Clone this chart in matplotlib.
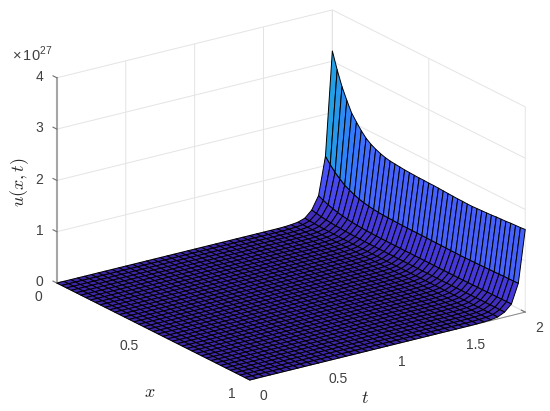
import matplotlib
matplotlib.use("Agg")
import matplotlib.pyplot as plt
from matplotlib.colors import LinearSegmentedColormap, Normalize
import numpy as np

plt.rcParams['font.family'] = ['Liberation Sans', 'DejaVu Sans']
plt.rcParams['mathtext.fontset'] = 'custom'
plt.rcParams['mathtext.rm'] = 'Liberation Sans'

# grid: 40 cells in x, 40 cells in t
x_vals = np.linspace(0, 1, 41)
t_vals = np.linspace(0, 2, 41)

# u at t=2 along x, in units of 1e27
u_end = [3.20, 2.88, 2.60, 2.38, 2.18, 2.05, 1.93, 1.83, 1.76, 1.71, 1.67,
         1.64, 1.62, 1.61, 1.60, 1.59, 1.585, 1.58, 1.575, 1.575, 1.57,
         1.57, 1.565, 1.56, 1.555, 1.55, 1.545, 1.545, 1.54, 1.54, 1.545,
         1.55, 1.555, 1.56, 1.57, 1.575, 1.58, 1.59, 1.595, 1.60, 1.61]
# share of u_end at the last t rows, flat zero before them
t_share = [0.001, 0.004, 0.009, 0.023, 0.062, 0.14, 0.37, 1.0]

x_ticks = [0, 0.5, 1]
x_labels = ['0', '0.5', '1']
t_ticks = [0, 0.5, 1, 1.5, 2]
t_labels = ['0', '0.5', '1', '1.5', '2']
u_ticks = [0, 1, 2, 3, 4]

# parula, first part of the 64 colour table
parula = [(0.2422, 0.1504, 0.6603), (0.2504, 0.1650, 0.7076), (0.2578, 0.1818, 0.7511),
          (0.2647, 0.1978, 0.7952), (0.2706, 0.2147, 0.8364), (0.2751, 0.2342, 0.8710),
          (0.2783, 0.2559, 0.8991), (0.2803, 0.2782, 0.9221), (0.2813, 0.3006, 0.9414),
          (0.2810, 0.3228, 0.9579), (0.2795, 0.3447, 0.9717), (0.2760, 0.3667, 0.9829),
          (0.2699, 0.3892, 0.9906), (0.2602, 0.4123, 0.9952), (0.2440, 0.4358, 0.9988),
          (0.2206, 0.4603, 0.9973), (0.1963, 0.4847, 0.9892), (0.1834, 0.5074, 0.9798),
          (0.1786, 0.5289, 0.9682), (0.1764, 0.5499, 0.9520), (0.1687, 0.5703, 0.9359),
          (0.1540, 0.5902, 0.9218), (0.1460, 0.6091, 0.9079), (0.1380, 0.6276, 0.8973)]

cmap = LinearSegmentedColormap.from_list('parula_low', parula)
norm = Normalize(0, 3.2 * 23 / 63)

X, T = np.meshgrid(x_vals, t_vals)
U = np.zeros(X.shape)
U[-len(t_share):, :] = np.outer(t_share, u_end)

fig = plt.figure(figsize=(5.5, 4.11), dpi=100)
ax = fig.add_axes([10.5 / 550, 5 / 411, 1, 1], projection='3d', proj_type='ortho')
ax.view_init(elev=20.6, azim=-35)
ax.set_box_aspect((1, 1, 0.652), zoom=1.237)

surf = ax.plot_surface(X, T, U, facecolors=cmap(norm(U)), rstride=1, cstride=1,
                       edgecolor='#000000', linewidth=0.7, shade=False, antialiased=True)
# the 3d axes box is square and narrower than the picture
surf.set_clip_on(False)

ax.set_xlim(0, 1, view_margin=0)
ax.set_ylim(0, 2, view_margin=0)
ax.set_zlim(0, 4, view_margin=0)
ax.set_xticks(x_ticks, x_labels)
ax.set_yticks(t_ticks, t_labels)
ax.set_zticks(u_ticks)
ax.zaxis.set_ticks_position('lower')
# z ticks point along -x like the reference
ax.zaxis._get_tickdir = lambda pos: 0

for axis in (ax.xaxis, ax.yaxis, ax.zaxis):
    axis.set_pane_color((1, 1, 1, 0))
    axis.pane.set_edgecolor((1, 1, 1, 0))
    axis.line.set_color('#8a8a8a')
    axis.line.set_linewidth(0.7)
    axis._axinfo['grid']['color'] = '#e4e4e4'
    axis._axinfo['grid']['linewidth'] = 0.7
    axis._axinfo['tick']['inward_factor'] = 0
    axis._axinfo['tick']['outward_factor'] = 0.25
    axis.set_tick_params(labelsize=10, labelcolor='#404040', color='#707070', width=0.7, pad=0)
ax.zaxis.line.set_linewidth(1.5)
ax.zaxis.line.set_color('#a6a6a6')
ax.zaxis.set_tick_params(pad=-3.5)

for lab in ax.xaxis.get_ticklabels():
    lab.set_ha('right')
    lab.set_va('center')
for lab in ax.yaxis.get_ticklabels():
    lab.set_ha('left')
    lab.set_va('center')
for lab in ax.zaxis.get_ticklabels():
    lab.set_ha('right')
    lab.set_va('center')

fig.text(12 / 550, 1 - 54 / 411, r'$\times\,10^{27}$', fontsize=10.5, color='#404040',
         va='center', ha='left')
fig.text(150 / 550, 1 - 392 / 411, r'$x$', fontsize=13, math_fontfamily='cm',
         color='#262626', ha='center', va='center')
fig.text(365 / 550, 1 - 398 / 411, r'$t$', fontsize=13, math_fontfamily='cm',
         color='#262626', ha='center', va='center')
fig.text(20 / 550, 1 - 182 / 411, r'$u(x,t)$', fontsize=13, math_fontfamily='cm',
         color='#262626', ha='center', va='center', rotation=90)

fig.savefig('out.png', dpi=100)
